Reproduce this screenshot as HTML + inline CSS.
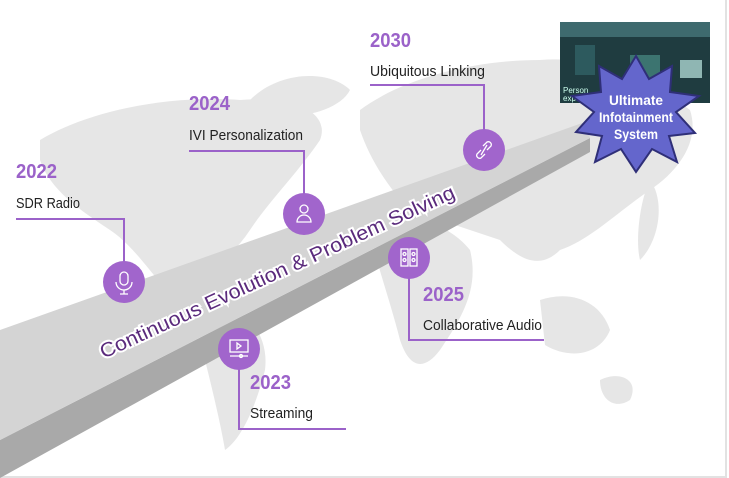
<!DOCTYPE html>
<html><head><meta charset="utf-8"><style>
html,body{margin:0;padding:0;background:#fff;}
svg{display:block;}
.yr{font-family:"Liberation Sans",sans-serif;font-weight:bold;font-size:20px;fill:#9b62c9;}
.lb{font-family:"Liberation Sans",sans-serif;font-size:15px;fill:#222;}
</style></head><body>
<svg width="729" height="478" viewBox="0 0 729 478">
<rect x="0" y="0" width="729" height="478" fill="#fff"/>
<rect x="-1" y="-1" width="727" height="478" fill="none" stroke="#e2e2e2" stroke-width="2"/>
<g fill="#e6e6e6">
<path d="M40,140 C90,110 170,95 240,100 C300,95 330,115 320,140 C300,170 270,200 250,230 C230,260 200,280 180,300 C160,290 140,250 110,230 C80,210 50,190 40,160 Z"/>
<path d="M250,100 C280,70 330,70 350,90 C340,110 300,120 270,115 Z"/>
<path d="M200,300 C240,300 270,330 265,370 C255,410 240,440 225,450 C220,420 210,380 200,340 Z"/>
<path d="M360,110 C400,80 470,60 540,60 C600,55 650,80 690,110 C700,140 680,170 650,190 C620,210 590,240 560,250 C540,270 520,260 500,240 C470,230 440,220 410,210 C390,190 370,160 360,130 Z"/>
<path d="M370,215 C410,210 450,225 470,250 C480,290 460,320 440,350 C425,370 410,370 400,340 C390,300 375,260 370,230 Z"/>
<path d="M540,300 C570,290 600,300 610,330 C600,355 570,360 545,345 Z"/>
<path d="M650,180 C665,200 660,240 640,260 C635,240 640,200 650,180 Z"/>
<path d="M600,380 C620,370 640,380 630,400 C615,410 600,400 600,380 Z"/>
</g>
<polygon points="0,440 590,138 590,152 0,478" fill="#a9a9a9"/>
<polygon points="0,330 585,122 590,138 0,440" fill="#d4d4d4"/>
<text x="0" y="0" transform="translate(280,278) rotate(-24.6)" text-anchor="middle" font-family="Liberation Sans,sans-serif" font-size="20" fill="#5a2a7c" stroke="#fff" stroke-width="4" paint-order="stroke" textLength="388" lengthAdjust="spacingAndGlyphs">Continuous Evolution &amp; Problem Solving</text>
<g fill="none" stroke="#9b62c9" stroke-width="2">
<polyline points="16,219 124,219 124,262"/>
<polyline points="189,151 304,151 304,194"/>
<polyline points="370,85 484,85 484,130"/>
<polyline points="409,278 409,340 544,340"/>
<polyline points="239,368 239,429 346,429"/>
</g>
<g fill="#a165cc">
<circle cx="124" cy="282" r="21"/>
<circle cx="304" cy="214" r="21"/>
<circle cx="484" cy="150" r="21"/>
<circle cx="409" cy="258" r="21"/>
<circle cx="239" cy="349" r="21"/>
</g>
<g fill="none" stroke="#fff" stroke-width="1.3">
<rect x="120" y="272" width="8" height="13" rx="4"/><path d="M116,282 a8,8 0 0 0 16,0 M124,290 v4 M120,294 h8"/>
<circle cx="304" cy="209" r="4"/><path d="M297,222 a7,7 0 0 1 14,0 z"/>
<path d="M481,150 l-4,4 a3,3 0 0 0 4,4 l4,-4 M487,150 l4,-4 a3,3 0 0 0 -4,-4 l-4,4 M481,155 l6,-10"/>
<rect x="401" y="249" width="7" height="17"/><rect x="410" y="249" width="7" height="17"/>
<circle cx="404.5" cy="254" r="1.5"/><circle cx="404.5" cy="260" r="1.5"/><circle cx="413.5" cy="254" r="1.5"/><circle cx="413.5" cy="260" r="1.5"/>
<rect x="230" y="340" width="18" height="12"/><path d="M237,343 l4,3 -4,3 z M230,356 h18"/><circle cx="241" cy="356" r="1.5"/>
</g>
<text class="yr" x="16" y="178" textLength="41" lengthAdjust="spacingAndGlyphs">2022</text>
<text class="lb" x="16" y="208" textLength="64" lengthAdjust="spacingAndGlyphs">SDR Radio</text>
<text class="yr" x="189" y="110" textLength="41" lengthAdjust="spacingAndGlyphs">2024</text>
<text class="lb" x="189" y="140" textLength="114" lengthAdjust="spacingAndGlyphs">IVI Personalization</text>
<text class="yr" x="370" y="47" textLength="41" lengthAdjust="spacingAndGlyphs">2030</text>
<text class="lb" x="370" y="76" textLength="115" lengthAdjust="spacingAndGlyphs">Ubiquitous Linking</text>
<text class="yr" x="423" y="301" textLength="41" lengthAdjust="spacingAndGlyphs">2025</text>
<text class="lb" x="423" y="330" textLength="119" lengthAdjust="spacingAndGlyphs">Collaborative Audio</text>
<text class="yr" x="250" y="389" textLength="41" lengthAdjust="spacingAndGlyphs">2023</text>
<text class="lb" x="250" y="418" textLength="63" lengthAdjust="spacingAndGlyphs">Streaming</text>
<g>
<rect x="560" y="22" width="150" height="81" fill="#1f3c40"/>
<path d="M560,22 h150 v15 h-150 z" fill="#3e6a6e"/>
<rect x="575" y="45" width="20" height="30" fill="#2d5a5e"/>
<rect x="680" y="60" width="22" height="18" fill="#8fb6b3"/>
<rect x="630" y="55" width="30" height="25" fill="#3c7470"/>
<text x="563" y="93" font-family="Liberation Sans,sans-serif" font-size="8" fill="#cfe">Person</text>
<text x="563" y="101" font-family="Liberation Sans,sans-serif" font-size="8" fill="#cfe">experie</text>
</g>
<polygon fill="#6466cc" stroke="#2f2f78" stroke-width="2" points="636,56 649,79 672,66 670,92 699,96 676,112 695,133 669,136 677,162 652,149 636,172 621,149 595,162 602,136 576,132 594,112 572,96 601,92 599,66 622,79"/>
<g font-family="Liberation Sans,sans-serif" font-weight="bold" font-size="14" fill="#fff" text-anchor="middle">
<text x="636" y="105" textLength="54" lengthAdjust="spacingAndGlyphs">Ultimate</text>
<text x="636" y="122" textLength="74" lengthAdjust="spacingAndGlyphs">Infotainment</text>
<text x="636" y="139" textLength="44" lengthAdjust="spacingAndGlyphs">System</text>
</g>
</svg>
</body></html>
